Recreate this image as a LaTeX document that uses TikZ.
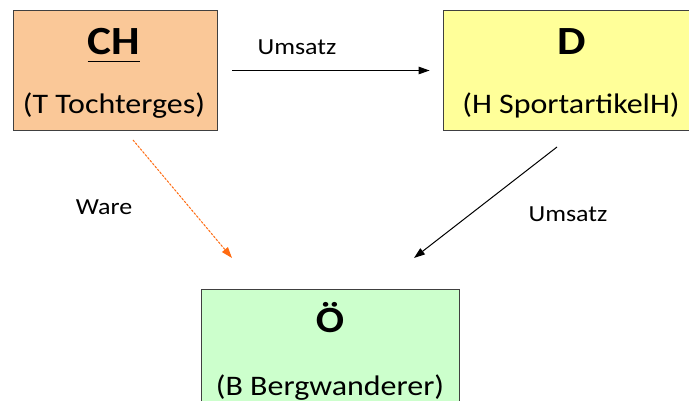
\documentclass[tikz,border=0pt]{standalone}
\usepackage{fontspec}
\setmainfont{Carlito}[FakeStretch=1.13]
\usepackage{tikz}
\usetikzlibrary{arrows.meta}
\definecolor{chorange}{HTML}{FAC898}
\definecolor{dyellow}{HTML}{FFFF99}
\definecolor{ogreen}{HTML}{CCFFCC}
\definecolor{wareorange}{HTML}{FF6A10}

\begin{document}
\begin{tikzpicture}[x=1pt, y=-1pt,
 box/.style={draw=black!75, line width=0.8pt, inner sep=0pt},
 land/.style={font=\fontsize{40}{44}\selectfont\bfseries, anchor=base, inner sep=0pt},
 firma/.style={font=\fontsize{28.3}{31}\selectfont, anchor=base},
 fluss/.style={font=\fontsize{23}{26}\selectfont},
 pfeil/.style={-{Triangle[length=11pt,width=7.5pt]}, line width=1pt}]
 \useasboundingbox (0,0) rectangle (689,401);
 \begin{scope}
 \clip (0,0) rectangle (689,401);
 \node[box, fill=chorange, minimum width=204pt, minimum height=119.5pt] (ch) at (115,70.5) {};
 \node[box, fill=dyellow, minimum width=258pt, minimum height=119.5pt] (d) at (572,70.5) {};
 \node[box, fill=ogreen, minimum width=258pt, minimum height=130pt] (oe) at (330,354) {};
 \end{scope}
 \node[land] (chname) at (114,55) {CH};
 \draw[line width=1.6pt] ([yshift=-6.5pt]chname.base west) -- ([yshift=-6.5pt]chname.base east);
 \node[firma] (chfirma) at (114,114) {(T Tochterges)};
 \node[land] (dname) at (572,55) {D};
 \node[firma] (dfirma) at (571,114) {(H SportartikelH)};
 \node[land, font=\fontsize{37}{40}\selectfont\bfseries] (oename) at (330,332) {Ö};
 \node[firma] (oefirma) at (330,395) {(B Bergwanderer)};
 % Warenfluss und Zahlungen
 \coordinate (wareA) at (133,140);
 \coordinate (wareB) at (232,258);
 \coordinate (umsA) at (557,147);
 \coordinate (umsB) at (414,258);
 \draw[pfeil] (ch.east) -- (d.west) [shorten <=15pt, shorten >=13pt];
 \draw[pfeil, draw=wareorange, fill=wareorange, dash pattern=on 2.2pt off 1.6pt] (wareA) -- (wareB);
 \draw[pfeil] (umsA) -- (umsB);
 \node[fluss] (umsatz1) at (297,47) {Umsatz};
 \node[fluss] (ware) at (104,207) {Ware};
 \node[fluss] (umsatz2) at (568,214) {Umsatz};
\end{tikzpicture}
\end{document}
